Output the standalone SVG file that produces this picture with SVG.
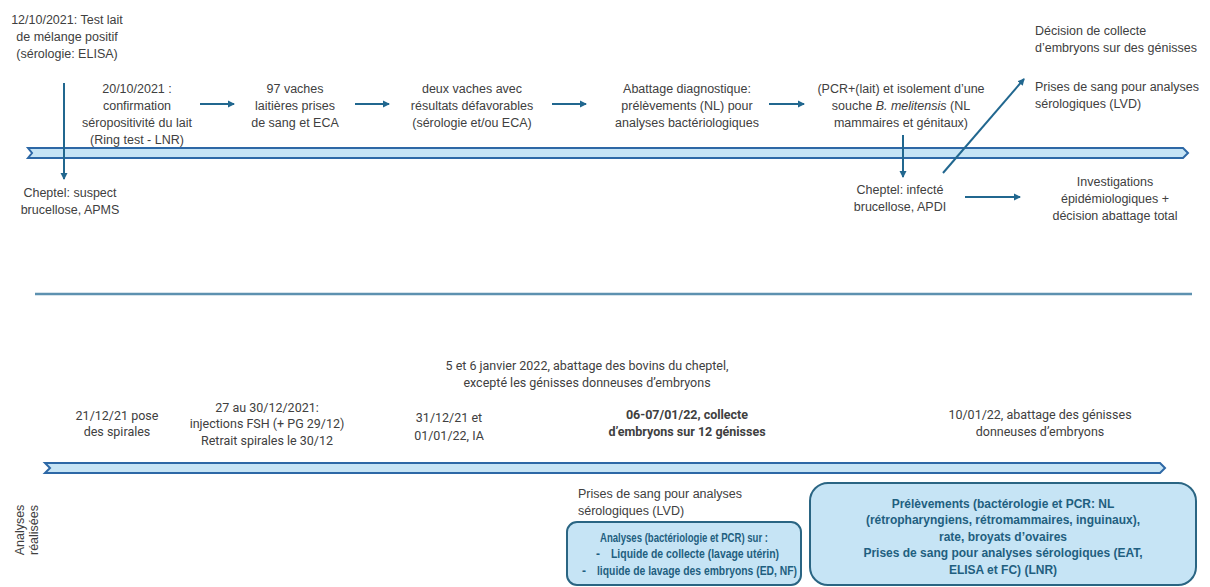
<svg xmlns="http://www.w3.org/2000/svg" width="1210" height="587" viewBox="0 0 1210 587">
<defs>
<marker id="ah" markerWidth="8" markerHeight="8" refX="6" refY="4" orient="auto" markerUnits="userSpaceOnUse">
<path d="M0,0.5 L7,4 L0,7.5 Z" fill="#21678f"/>
</marker>
<style>
text{font-family:"Liberation Sans",Arial,sans-serif;font-size:12.5px;fill:#404040}
.c{text-anchor:middle}
.b{font-weight:bold}
.r{font-family:Roboto,"Liberation Sans",sans-serif;font-size:12.5px}
.bx{font-weight:bold;fill:#1f5f80;text-anchor:middle;font-size:12px}
.bs{font-weight:bold;fill:#1f5f80;font-size:12px}
.arr{stroke:#21678f;stroke-width:2;fill:none;marker-end:url(#ah)}
.rib{fill:#c6e4f5;stroke:#2d68a6;stroke-width:2}
.box{fill:#c6e4f5;stroke:#2a6583;stroke-width:2}
</style>
</defs>
<rect width="1210" height="587" fill="#fff"/>

<g id="timeline-top">
<path class="rib" d="M28,148 L1183,148 L1188,153 L1183,158 L28,158 L32,153 Z"/>
</g>
<g id="timeline-bottom">
<path class="rib" d="M45,463 L1160,463 L1165,468 L1160,473 L45,473 L50,468 Z"/>
</g>
<g id="divider">
<line x1="35" y1="294" x2="1192" y2="294" stroke="#5d91b0" stroke-width="2.5"/>
</g>

<g id="connectors">
<line class="arr" x1="64" y1="83" x2="64" y2="179"/>
<line class="arr" x1="200" y1="104" x2="234" y2="104"/>
<line class="arr" x1="355" y1="104" x2="389" y2="104"/>
<line class="arr" x1="552" y1="104" x2="586" y2="104"/>
<line class="arr" x1="769" y1="104" x2="804" y2="104"/>
<line class="arr" x1="903" y1="135" x2="903" y2="177"/>
<line class="arr" x1="943" y1="173" x2="1024" y2="79"/>
<line class="arr" x1="965" y1="197" x2="1020" y2="197"/>
</g>

<g id="n1"><text class="c" x="67" y="24">12/10/2021: Test lait</text><text class="c" x="67" y="41">de mélange positif</text><text class="c" x="67" y="58">(sérologie: ELISA)</text></g>
<g id="n2"><text class="c" x="70" y="197">Cheptel: suspect</text><text class="c" x="70" y="214">brucellose, APMS</text></g>
<g id="n3"><text class="c" x="137" y="93">20/10/2021 :</text><text class="c" x="137" y="110">confirmation</text><text class="c" x="137" y="127">séropositivité du lait</text><text class="c" x="137" y="144">(Ring test - LNR)</text></g>
<g id="n4"><text class="c" x="295" y="93">97 vaches</text><text class="c" x="295" y="110">laitières prises</text><text class="c" x="295" y="127">de sang et ECA</text></g>
<g id="n5"><text class="c" x="472" y="93">deux vaches avec</text><text class="c" x="472" y="110">résultats défavorables</text><text class="c" x="472" y="127">(sérologie et/ou ECA)</text></g>
<g id="n6"><text class="c" x="687" y="93">Abattage diagnostique:</text><text class="c" x="687" y="110">prélèvements (NL) pour</text><text class="c" x="687" y="127">analyses bactériologiques</text></g>
<g id="n7"><text class="c" x="901" y="93">(PCR+(lait) et isolement d’une</text><text class="c" x="901" y="110">souche <tspan font-style="italic">B. melitensis</tspan> (NL</text><text class="c" x="901" y="127">mammaires et génitaux)</text></g>
<g id="n8"><text class="c" x="900" y="194">Cheptel: infecté</text><text class="c" x="900" y="211">brucellose, APDI</text></g>
<g id="n9"><text class="c" x="1115" y="186">Investigations</text><text class="c" x="1115" y="203">épidémiologiques +</text><text class="c" x="1115" y="220">décision abattage total</text></g>
<g id="n10"><text x="1035" y="35">Décision de collecte</text><text x="1035" y="52">d’embryons sur des génisses</text></g>
<g id="n11"><text x="1035" y="91">Prises de sang pour analyses</text><text x="1035" y="108">sérologiques (LVD)</text></g>

<g id="b1"><text class="c r" x="587" y="370">5 et 6 janvier 2022, abattage des bovins du cheptel,</text><text class="c r" x="587" y="387">excepté les génisses donneuses d’embryons</text></g>
<g id="b2"><text class="c r" x="117" y="420">21/12/21 pose</text><text class="c r" x="117" y="436">des spirales</text></g>
<g id="b3"><text class="c r" x="267" y="412">27 au 30/12/2021:</text><text class="c r" x="267" y="428">injections FSH (+ PG 29/12)</text><text class="c r" x="267" y="445">Retrait spirales le 30/12</text></g>
<g id="b4"><text class="c r" x="449" y="422">31/12/21 et</text><text class="c r" x="449" y="440">01/01/22, IA</text></g>
<g id="b5"><text class="c r b" x="687" y="419">06-07/01/22, collecte</text><text class="c r b" x="687" y="436">d’embryons sur 12 génisses</text></g>
<g id="b6"><text class="c r" x="1040" y="419">10/01/22, abattage des génisses</text><text class="c r" x="1040" y="436">donneuses d’embryons</text></g>

<g id="label-analyses"><text class="c" transform="translate(24,530) rotate(-90)" style="font-size:12.5px">Analyses</text><text class="c" transform="translate(38,530) rotate(-90)" style="font-size:12.5px">réalisées</text></g>
<g id="b7"><text x="578" y="498">Prises de sang pour analyses</text><text x="578" y="515">sérologiques (LVD)</text></g>
<g id="box1"><rect class="box" x="567" y="522" width="234" height="63" rx="10"/>
<text class="bs" x="600" y="542" textLength="168" lengthAdjust="spacingAndGlyphs">Analyses (bactériologie et PCR) sur :</text>
<text class="bs" x="596" y="558">-</text><text class="bs" x="611" y="558" textLength="168" lengthAdjust="spacingAndGlyphs">Liquide de collecte (lavage utérin)</text>
<text class="bs" x="582" y="575">-</text><text class="bs" x="597" y="575" textLength="200" lengthAdjust="spacingAndGlyphs">liquide de lavage des embryons (ED, NF)</text></g>
<g id="box2"><rect class="box" x="810" y="483" width="386" height="102" rx="18"/><text class="bx" x="1003" y="508">Prélèvements (bactérologie et PCR: NL</text><text class="bx" x="1003" y="524">(rétropharyngiens, rétromammaires, inguinaux),</text><text class="bx" x="1003" y="541">rate,  broyats d’ovaires</text><text class="bx" x="1003" y="557">Prises de sang pour analyses sérologiques (EAT,</text><text class="bx" x="1003" y="574">ELISA et FC) (LNR)</text></g>
</svg>
